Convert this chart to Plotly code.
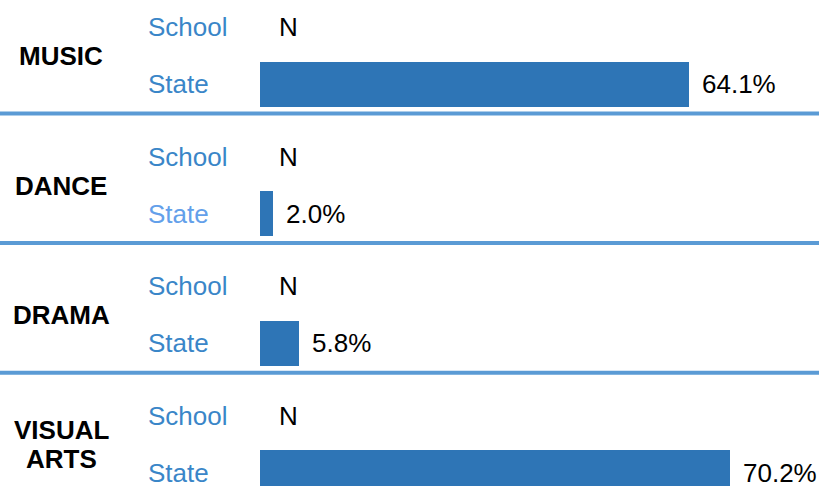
import plotly.graph_objects as go

# ---- data ----
categories = ["MUSIC", "DANCE", "DRAMA", "VISUAL ARTS"]
row_labels = ["School", "State"]
school_values = ["N", "N", "N", "N"]
state_values = [64.1, 2.0, 5.8, 70.2]

# ---- layout constants (pixel geometry) ----
W, H = 819, 486
X0_PX = 260            # pixel where value 0 sits
PX_PER_UNIT = 6.69     # pixels per percentage point
PERIOD = 129.6         # section height in pixels
SCHOOL_Y = 27
STATE_Y = 84
CAT_Y = 56
SEP_Y = 113.5
BAR_H = 45
CAT_X_PX = 61
ROW_X_PX = 146

BAR_COLOR = "#2e75b6"
LABEL_BLUE = "#3a86c8"
SEP_COLOR = "#5b9bd5"
FONT = "Liberation Sans, Arial, sans-serif"
FS = 26


def px_to_x(px):
    return (px - X0_PX) / PX_PER_UNIT


fig = go.Figure()

ys = [STATE_Y + i * PERIOD for i in range(len(categories))]
fig.add_trace(go.Bar(
    x=state_values, y=ys, orientation="h", width=BAR_H,
    marker=dict(color=BAR_COLOR, line=dict(width=0)),
    hoverinfo="skip", showlegend=False,
))

ann = []
shapes = []
for i, cat in enumerate(categories):
    off = i * PERIOD
    # category label (split into lines)
    lines = cat.split(" ")
    n = len(lines)
    line_gap = 29
    for j, ln in enumerate(lines):
        cy = CAT_Y + off + (j - (n - 1) / 2) * line_gap
        ann.append(dict(x=px_to_x(CAT_X_PX), y=cy, text=f"<b>{ln}</b>",
                        showarrow=False, xanchor="center", yanchor="middle",
                        font=dict(family=FONT, size=FS, color="black")))
    # row labels
    for k, lab in enumerate(row_labels):
        ry = (SCHOOL_Y if k == 0 else STATE_Y) + off
        col = LABEL_BLUE if not (i == 1 and k == 1) else "#63a0ea"
        ann.append(dict(x=px_to_x(ROW_X_PX), y=ry, text=lab, showarrow=False,
                        xanchor="left", yanchor="middle",
                        font=dict(family=FONT, size=FS, color=col)))
    # school value
    ann.append(dict(x=0, y=SCHOOL_Y + off, text=school_values[i], showarrow=False,
                    xanchor="left", yanchor="middle", xshift=17,
                    font=dict(family=FONT, size=FS, color="black")))
    # state value
    ann.append(dict(x=state_values[i], y=STATE_Y + off, text=f"{state_values[i]:.1f}%",
                    showarrow=False, xanchor="left", yanchor="middle", xshift=11,
                    font=dict(family=FONT, size=FS, color="black")))
    # separator
    if i < len(categories) - 1:
        shapes.append(dict(type="line", xref="paper", yref="y", x0=0, x1=1,
                           y0=SEP_Y + off, y1=SEP_Y + off,
                           line=dict(color=SEP_COLOR, width=4)))

fig.update_layout(
    width=W, height=H,
    margin=dict(l=0, r=0, t=0, b=0),
    paper_bgcolor="white", plot_bgcolor="white",
    xaxis=dict(range=[px_to_x(0), px_to_x(W)], visible=False, fixedrange=True),
    yaxis=dict(range=[H, 0], visible=False, fixedrange=True),
    annotations=ann, shapes=shapes,
    bargap=0,
)

fig.write_html("out.html", include_plotlyjs=True, config={"displayModeBar": False})
